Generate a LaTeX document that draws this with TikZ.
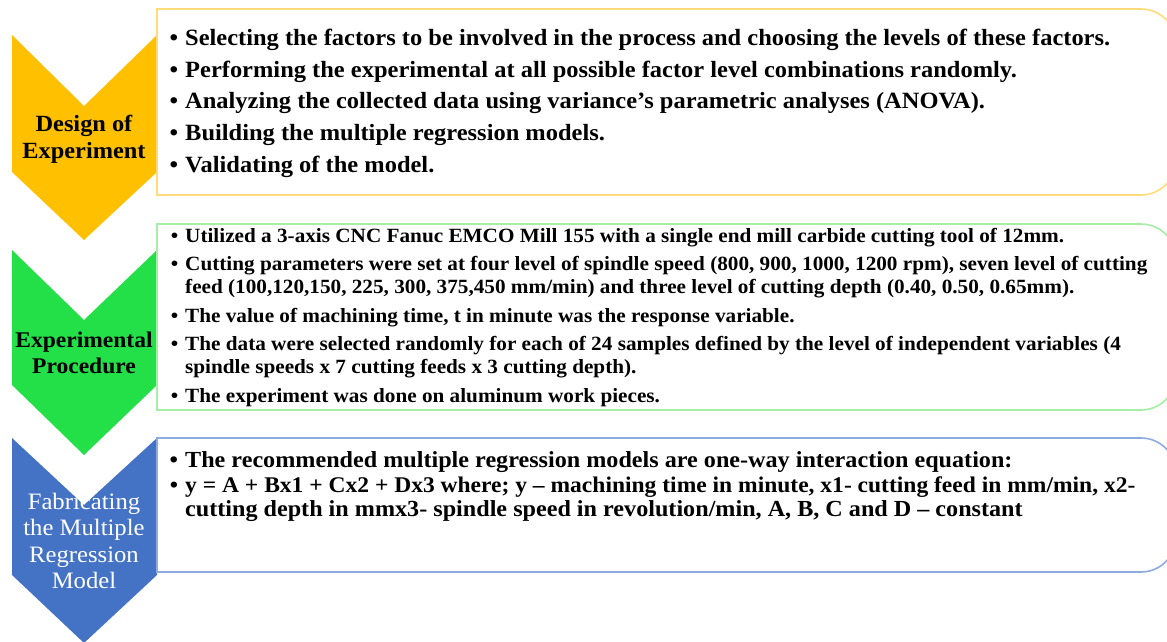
\documentclass[tikz,border=0pt]{standalone}
\usepackage{fontspec}
\setmainfont{Liberation Serif}[FakeStretch=1.05]
\definecolor{cgold}{HTML}{FFC000}
\definecolor{bgold}{HTML}{FFDB7A}
\definecolor{cgreen}{RGB}{36,224,72}
\definecolor{bgreen}{HTML}{A6EEA6}
\definecolor{cblue}{HTML}{4472C4}
\definecolor{bblue}{HTML}{8FAADC}
\newcommand{\bul}{\llap{\textbullet\hspace{7pt}}}
\begin{document}
\begin{tikzpicture}[x=1pt,y=-1pt,
  boxline/.style={line width=1.6pt},
  tA/.style={anchor=base west,inner sep=0pt,font=\fontsize{23.3}{26}\selectfont\bfseries},
  tB/.style={anchor=base west,inner sep=0pt,font=\fontsize{20.2}{22}\selectfont\bfseries},
  tC/.style={anchor=base west,inner sep=0pt,font=\fontsize{23}{25}\selectfont\bfseries},
  tCs/.style={anchor=base west,inner sep=0pt,font=\fontsize{22.4}{25}\selectfont\bfseries},
  labA/.style={anchor=base,inner sep=0pt,font=\fontsize{23.2}{26}\selectfont\bfseries},
  labB/.style={anchor=base,inner sep=0pt,font=\fontsize{22.4}{26}\selectfont\bfseries},
  labw/.style={anchor=base,inner sep=0pt,text=white,font=\fontsize{23.5}{25}\selectfont}]
\useasboundingbox (0,0) rectangle (1167,641);
% chevrons
\fill[cgold] (12,35) -- (84,106) -- (157,35) -- (157,172) -- (84,240) -- (12,172) -- cycle;
\fill[cgreen] (12,250) -- (84,320) -- (157,250) -- (157,385) -- (84,455) -- (12,385) -- cycle;
\fill[cblue] (12,438) -- (84,505) -- (157,438) -- (157,575) -- (84,643) -- (12,575) -- cycle;
% boxes
\draw[boxline,draw=bgold] (1100,9) -- (157,9) -- (157,195) -- (1100,195) [rounded corners=35pt] -- (1176,195) -- (1176,9) -- (1100,9);
\draw[boxline,draw=bgreen] (1100,224) -- (157,224) -- (157,410) -- (1100,410) [rounded corners=35pt] -- (1176,410) -- (1176,224) -- (1100,224);
\draw[boxline,draw=bblue] (1100,438) -- (157,438) -- (157,572) -- (1100,572) [rounded corners=35pt] -- (1176,572) -- (1176,438) -- (1100,438);
% chevron labels
\node[labA] (d1) at (84,131) {Design of};
\node[labA] (d2) at (84,158) {Experiment};
\node[labB] (e1) at (84,347) {Experimental};
\node[labB] (e2) at (84,373) {Procedure};
\node[labw] (f1) at (84,509) {Fabricating};
\node[labw] (f2) at (84,535) {the Multiple};
\node[labw] (f3) at (84,562) {Regression};
\node[labw] (f4) at (84,588) {Model};
% box 1 text
\node[tA] (a1) at (185,45) {\bul Selecting the factors to be involved in the process and choosing the levels of these factors.};
\node[tA] (a2) at (185,77) {\bul Performing the experimental at all possible factor level combinations randomly.};
\node[tA] (a3) at (185,108) {\bul Analyzing the collected data using variance's parametric analyses (ANOVA).};
\node[tA] (a4) at (185,140) {\bul Building the multiple regression models.};
\node[tA] (a5) at (185,172) {\bul Validating of the model.};
% box 2 text
\node[tB] (b1) at (185,242) {\bul Utilized a 3-axis CNC Fanuc EMCO Mill 155 with a single end mill carbide cutting tool of 12mm.};
\node[tB] (b2) at (185,270) {\bul Cutting parameters were set at four level of spindle speed (800, 900, 1000, 1200 rpm), seven level of cutting};
\node[tB] (b3) at (185,293) {feed (100,120,150, 225, 300, 375,450 mm/min) and three level of cutting depth (0.40, 0.50, 0.65mm).};
\node[tB] (b4) at (185,322) {\bul The value of machining time, t in minute was the response variable.};
\node[tB] (b5) at (185,350) {\bul The data were selected randomly for each of 24 samples defined by the level of independent variables (4};
\node[tB] (b6) at (185,373) {spindle speeds x 7 cutting feeds x 3 cutting depth).};
\node[tB] (b7) at (185,402) {\bul The experiment was done on aluminum work pieces.};
% box 3 text
\node[tC] (c1) at (185,467) {\bul The recommended multiple regression models are one-way interaction equation:};
\node[tCs] (c2) at (185,492) {\bul y = A + Bx1 + Cx2 + Dx3 where; y -- machining time in minute, x1- cutting feed in mm/min, x2-};
\node[tC] (c3) at (185,516) {cutting depth in mmx3- spindle speed in revolution/min, A, B, C and D -- constant};
\end{tikzpicture}
\end{document}
